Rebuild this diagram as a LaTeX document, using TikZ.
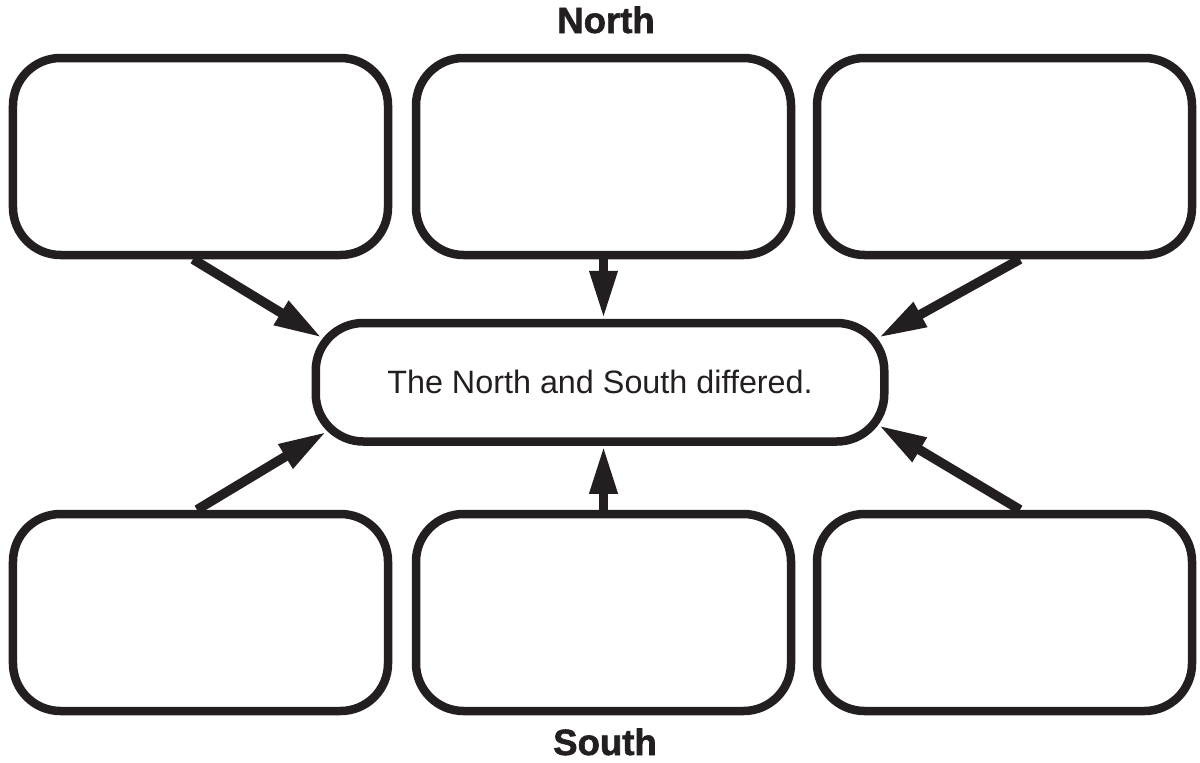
\documentclass[tikz,border=0pt]{standalone}
\usepackage{fontspec}
\setmainfont{Liberation Sans}
\newfontfamily\headfont[FakeBold=1.6]{Liberation Sans Bold}
\usetikzlibrary{arrows.meta}
\definecolor{ink}{RGB}{35,31,32}

\begin{document}
\begin{tikzpicture}[
    box/.style={draw=ink, line width=0.17cm, rounded corners=0.95cm, minimum width=7.5cm, minimum height=3.94cm},
    centerbox/.style={draw=ink, line width=0.17cm, rounded corners=0.95cm, minimum width=11.37cm, minimum height=2.37cm, font=\fontsize{18.4}{22}\selectfont, text=ink},
    heading/.style={font=\fontsize{20.8}{24}\headfont, text=ink, anchor=base},
    arr/.style={draw=ink, line width=0.19cm, -{Triangle[length=0.96cm, width=0.52cm]}}
]
            \useasboundingbox (0,0) rectangle (24,-15.24);

            % Headings
            \node[heading] (northlabel) at (12.12,-0.66) {North};
            \node[heading] (southlabel) at (12.1,-15.1) {South};

            % Top row nodes
            \node[box] (north1) at (4.01,-3.13) {};
            \node[box] (north2) at (12.07,-3.13) {};
            \node[box] (north3) at (20.09,-3.13) {};

            % Center node
            \node[centerbox] (center) at (12,-7.645) {The North and South differed.};

            % Bottom row nodes
            \node[box] (south1) at (4.01,-12.25) {};
            \node[box] (south2) at (12.07,-12.25) {};
            \node[box] (south3) at (20.09,-12.25) {};

            % Arrows from the top row
            \draw[arr] ([xshift=-0.15cm]north1.south) -- ([shift={(0.21,-0.38)}]center.north west);
            \draw[arr] (north2.south) -- (north2.south |- center.north);
            \draw[arr] ([xshift=0.31cm]north3.south) -- ([shift={(-0.2,-0.38)}]center.north east);

            % Arrows from the bottom row
            \draw[arr] ([xshift=-0.07cm]south1.north) -- ([shift={(0.3,0.28)}]center.south west);
            \draw[arr] (south2.north) -- (south2.north |- center.south);
            \draw[arr] ([xshift=0.31cm]south3.north) -- ([shift={(-0.2,0.41)}]center.south east);
\end{tikzpicture}
\end{document}
